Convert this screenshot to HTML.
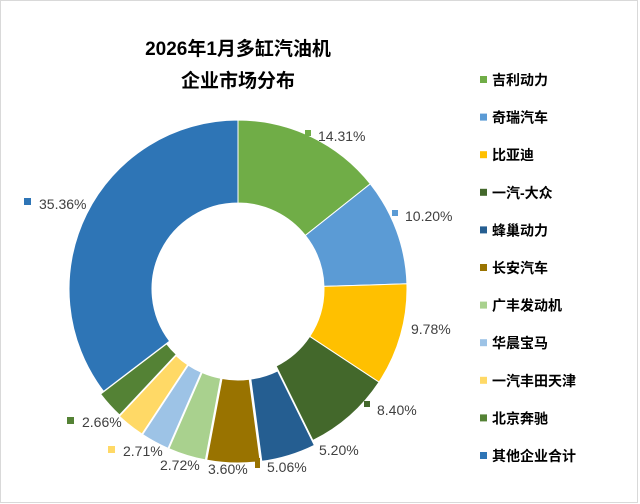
<!DOCTYPE html>
<html><head><meta charset="utf-8"><style>
html,body{margin:0;padding:0;background:#fff}
svg{display:block}
text{font-family:"Liberation Sans","Noto Sans CJK SC",sans-serif}
</style></head><body>
<svg id="s" width="640" height="504" viewBox="0 0 640 504" xmlns="http://www.w3.org/2000/svg">
<rect x="0.5" y="0.5" width="637" height="502" fill="#fff" stroke="#d9d9d9"/>
<text x="238" y="55" font-size="19" font-weight="bold" text-anchor="middle" fill="#000">2026年1月多缸汽油机</text>
<text x="238" y="87" font-size="19" font-weight="bold" text-anchor="middle" fill="#000">企业市场分布</text>
<g id="pie"></g>
<g font-size="14" fill="#404040">
<rect x="305" y="130" width="6" height="6" fill="#70ad47"/><text x="318" y="141">14.31%</text>
<rect x="392" y="210" width="6" height="6" fill="#5b9bd5"/><text x="405" y="221">10.20%</text>
<text x="411" y="334">9.78%</text>
<rect x="364" y="401" width="6" height="6" fill="#43682b"/><text x="377" y="415">8.40%</text>
<text x="319" y="455">5.20%</text>
<rect x="255" y="458" width="5" height="10" fill="#997300"/><text x="267" y="472">5.06%</text>
<text x="208" y="474">3.60%</text>
<text x="160" y="470">2.72%</text>
<rect x="108" y="446" width="7" height="7" fill="#ffd966"/><text x="123" y="456">2.71%</text>
<rect x="67" y="417" width="7" height="7" fill="#548235"/><text x="82" y="427">2.66%</text>
<rect x="24" y="198" width="7" height="7" fill="#2e75b6"/><text x="39" y="209">35.36%</text>
</g>
<g id="leg" font-size="14" font-weight="bold" fill="#000"></g>
</svg>
<script>
var d=[[14.31,"#70ad47","吉利动力",0],[10.20,"#5b9bd5","奇瑞汽车",0],[9.78,"#ffc000","比亚迪",0],[8.40,"#43682b","一汽-大众",0],[5.20,"#255e91","蜂巢动力",5],[5.06,"#997300","长安汽车",5],[3.60,"#a9d18e","广丰发动机",5],[2.72,"#9dc3e6","华晨宝马",5],[2.71,"#ffd966","一汽丰田天津",5],[2.66,"#548235","北京奔驰",4],[35.36,"#2e75b6","其他企业合计",0]];
var cx=238,cy=289,R=169,r=86,a=0,p="",l="";
d.forEach(function(e,i){
 var a0=a/100*2*Math.PI;a+=e[0];var a1=a/100*2*Math.PI;
 var m=(a0+a1)/2,ox=e[3]*Math.sin(m),oy=-e[3]*Math.cos(m);
 function pt(rad,ang){return [cx+ox+rad*Math.sin(ang),cy+oy-rad*Math.cos(ang)];}
 var big=(a1-a0)>Math.PI?1:0;
 var o0=pt(R,a0),o1=pt(R,a1),i1=pt(r,a1),i0=pt(r,a0);
 p+='<path d="M'+o0+' A'+R+' '+R+' 0 '+big+' 1 '+o1+' L'+i1+' A'+r+' '+r+' 0 '+big+' 0 '+i0+' Z" fill="'+e[1]+'" stroke="#fff" stroke-width="1"/>';
 var y=80+i*37.6;
 l+='<rect x="480" y="'+(y-4)+'" width="7" height="7" fill="'+e[1]+'"/><text x="492" y="'+(y+5)+'">'+e[2]+'</text>';
});
document.getElementById("pie").innerHTML=p;
document.getElementById("leg").innerHTML=l;
</script>
</body></html>
